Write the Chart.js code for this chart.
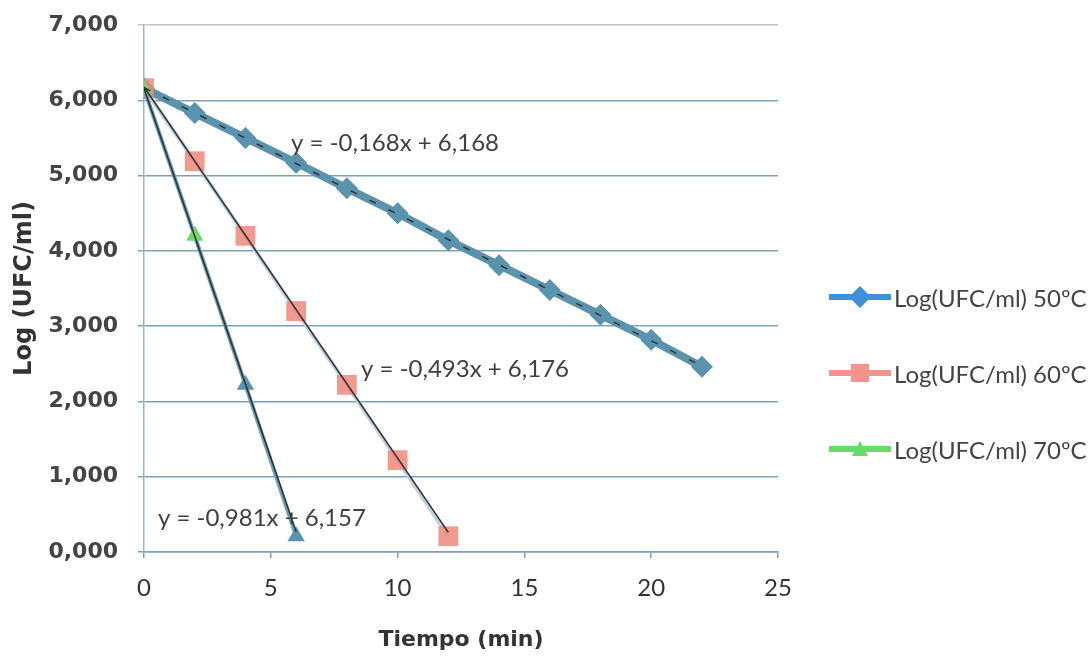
<!DOCTYPE html>
<html>
<head>
<meta charset="utf-8">
<script src="https://cdn.jsdelivr.net/npm/chart.js@4.4.1/dist/chart.umd.min.js"></script>
<style>
  html, body { margin: 0; padding: 0; background: #fff; }
  #wrap { position: relative; width: 1090px; height: 663px; }
  #leyenda { position: absolute; left: 829px; top: 278px; font-family: Lato, sans-serif; font-size: 24px; color: #444; }
  .item { display: flex; align-items: center; height: 38px; margin-bottom: 38px; white-space: nowrap; }
  .item svg { margin-right: 3px; }
</style>
</head>
<body>
<div id="wrap">
  <canvas id="grafico" width="1090" height="663"></canvas>
  <div id="leyenda"></div>
</div>
<script>
// ===== DATOS =====
const tiempo50 = [0, 2, 4, 6, 8, 10, 12, 14, 16, 18, 20, 22];
const log50 = [6.16, 5.83, 5.50, 5.17, 4.83, 4.50, 4.14, 3.81, 3.48, 3.15, 2.82, 2.46];

const tiempo60 = [0, 2, 4, 6, 8, 10, 12];
const log60 = [6.16, 5.19, 4.20, 3.20, 2.22, 1.22, 0.21];

const tiempo70 = [0, 2, 4, 6];
const log70 = [6.15, 4.20, 2.22, 0.21];

const nombres = ['Log(UFC/ml) 50ºC', 'Log(UFC/ml) 60ºC', 'Log(UFC/ml) 70ºC'];
const ecuaciones = ['y = -0,168x + 6,168', 'y = -0,493x + 6,176', 'y = -0,981x + 6,157'];

// extremos de las lineas de tendencia
const tendX = [[0, 22], [0, 12], [0, 6]];
const tendY = [[6.168, 2.47], [6.176, 0.26], [6.157, 0.27]];

const yTicks = [0, 1, 2, 3, 4, 5, 6, 7];
const xTicks = [0, 5, 10, 15, 20, 25];

// ===== ESTILOS =====
const azul = '#5a93ae';
const rosa = 'rgba(240, 135, 125, 0.85)';
const verde = '#6fd66f';
const rejilla = '#7aa3b9';
const posEcuacion = [[5.8, 5.43], [8.56, 2.43], [0.55, 0.45]];

const puntos = (xs, ys) => xs.map((x, i) => ({ x: x, y: ys[i] }));

const tendencia = (k, dash, color) => ({
    label: 'tend' + k,
    data: puntos(tendX[k], tendY[k]),
    showLine: true,
    borderColor: color,
    borderWidth: 1.5,
    borderDash: dash,
    pointRadius: 0,
    order: 0
});

// ===== ECUACIONES =====
const pluginEcuaciones = {
    id: 'ecuaciones',
    afterDatasetsDraw(chart) {
        const { ctx, scales } = chart;
        ctx.save();
        ctx.font = '24px Lato, sans-serif';
        ctx.fillStyle = '#404040';
        ctx.textBaseline = 'middle';
        ecuaciones.forEach((txt, i) => {
            const px = scales.x.getPixelForValue(posEcuacion[i][0]);
            const py = scales.y.getPixelForValue(posEcuacion[i][1]);
            ctx.fillText(txt, px, py);
        });
        ctx.restore();
    }
};

new Chart(document.getElementById('grafico'), {
    type: 'scatter',
    data: {
        datasets: [
            tendencia(0, [7, 14], '#333'),
            tendencia(1, [], '#2e2e2e'),
            tendencia(2, [], '#2e2e2e'),
            {
                label: nombres[2],
                data: puntos(tiempo70, log70),
                showLine: true,
                borderColor: '#6a9fbb',
                borderWidth: 4,
                pointStyle: 'triangle',
                pointRadius: 10,
                pointBackgroundColor: [verde, verde, azul, azul],
                pointBorderWidth: 0,
                order: 1
            },
            {
                label: nombres[1],
                data: puntos(tiempo60, log60),
                showLine: true,
                borderColor: '#bcd0dc',
                borderWidth: 4,
                pointStyle: 'rect',
                pointRadius: 14,
                pointBackgroundColor: rosa,
                pointBorderWidth: 0,
                order: 2
            },
            {
                label: nombres[0],
                data: puntos(tiempo50, log50),
                showLine: true,
                borderColor: azul,
                borderWidth: 8,
                pointStyle: 'rectRot',
                pointRadius: 11,
                pointBackgroundColor: azul,
                pointBorderWidth: 0,
                order: 3
            }
        ]
    },
    options: {
        responsive: false,
        animation: false,
        layout: { padding: { left: 0, right: 312, top: 25, bottom: 0 } },
        plugins: {
            legend: { display: false },
            tooltip: { enabled: false }
        },
        scales: {
            x: {
                type: 'linear',
                min: 0,
                max: 25,
                afterFit: s => { s.height = 111; },
                afterBuildTicks: s => { s.ticks = xTicks.map(v => ({ value: v })); },
                grid: { drawOnChartArea: false, color: rejilla, lineWidth: 1.5, tickLength: 6 },
                border: { color: rejilla, width: 1.5 },
                ticks: { padding: 16, color: '#333', font: { family: 'Lato', size: 24 } },
                title: {
                    display: true,
                    text: 'Tiempo (min)',
                    color: '#333',
                    font: { family: 'DejaVu Sans', size: 22, weight: 'bold' },
                    padding: { top: 8, bottom: 10 }
                }
            },
            y: {
                min: 0,
                max: 7,
                afterFit: s => { s.width = 144; s.paddingTop = 0; s.paddingBottom = 0; },
                afterBuildTicks: s => { s.ticks = yTicks.map(v => ({ value: v })); },
                grid: {
                    color: c => c.tick && c.tick.value === 7 ? '#c4c4c4' : rejilla,
                    lineWidth: 1.5,
                    tickLength: 6
                },
                border: { color: '#9bb5c4', width: 1.5 },
                ticks: {
                    padding: 20,
                    color: '#444',
                    font: { family: 'DejaVu Sans', size: 22, weight: 'bold' },
                    callback: v => v.toFixed(3).replace('.', ',')
                },
                title: {
                    display: true,
                    text: 'Log (UFC/ml)',
                    color: '#333',
                    font: { family: 'DejaVu Sans', size: 24, weight: 'bold' },
                    padding: { top: 10, bottom: 0 }
                }
            }
        }
    },
    plugins: [pluginEcuaciones]
});

// ===== LEYENDA =====
const iconos = [
    { color: '#3f8fdc', marca: '<polygon points="31,1 42,12 31,23 20,12" fill="#3f8fdc"/>' },
    { color: '#f2948c', marca: '<rect x="22" y="3" width="18" height="18" fill="#f2948c"/>' },
    { color: '#66dd66', marca: '<polygon points="31,4 39,19 23,19" fill="#66dd66"/>' }
];
const leyenda = document.getElementById('leyenda');
nombres.forEach((n, i) => {
    const div = document.createElement('div');
    div.className = 'item';
    div.innerHTML = '<svg width="62" height="24"><line x1="1" y1="12" x2="61" y2="12" stroke="' + iconos[i].color +
        '" stroke-width="6" stroke-linecap="round"/>' + iconos[i].marca + '</svg><span>' + n + '</span>';
    leyenda.appendChild(div);
});
</script>
</body>
</html>
